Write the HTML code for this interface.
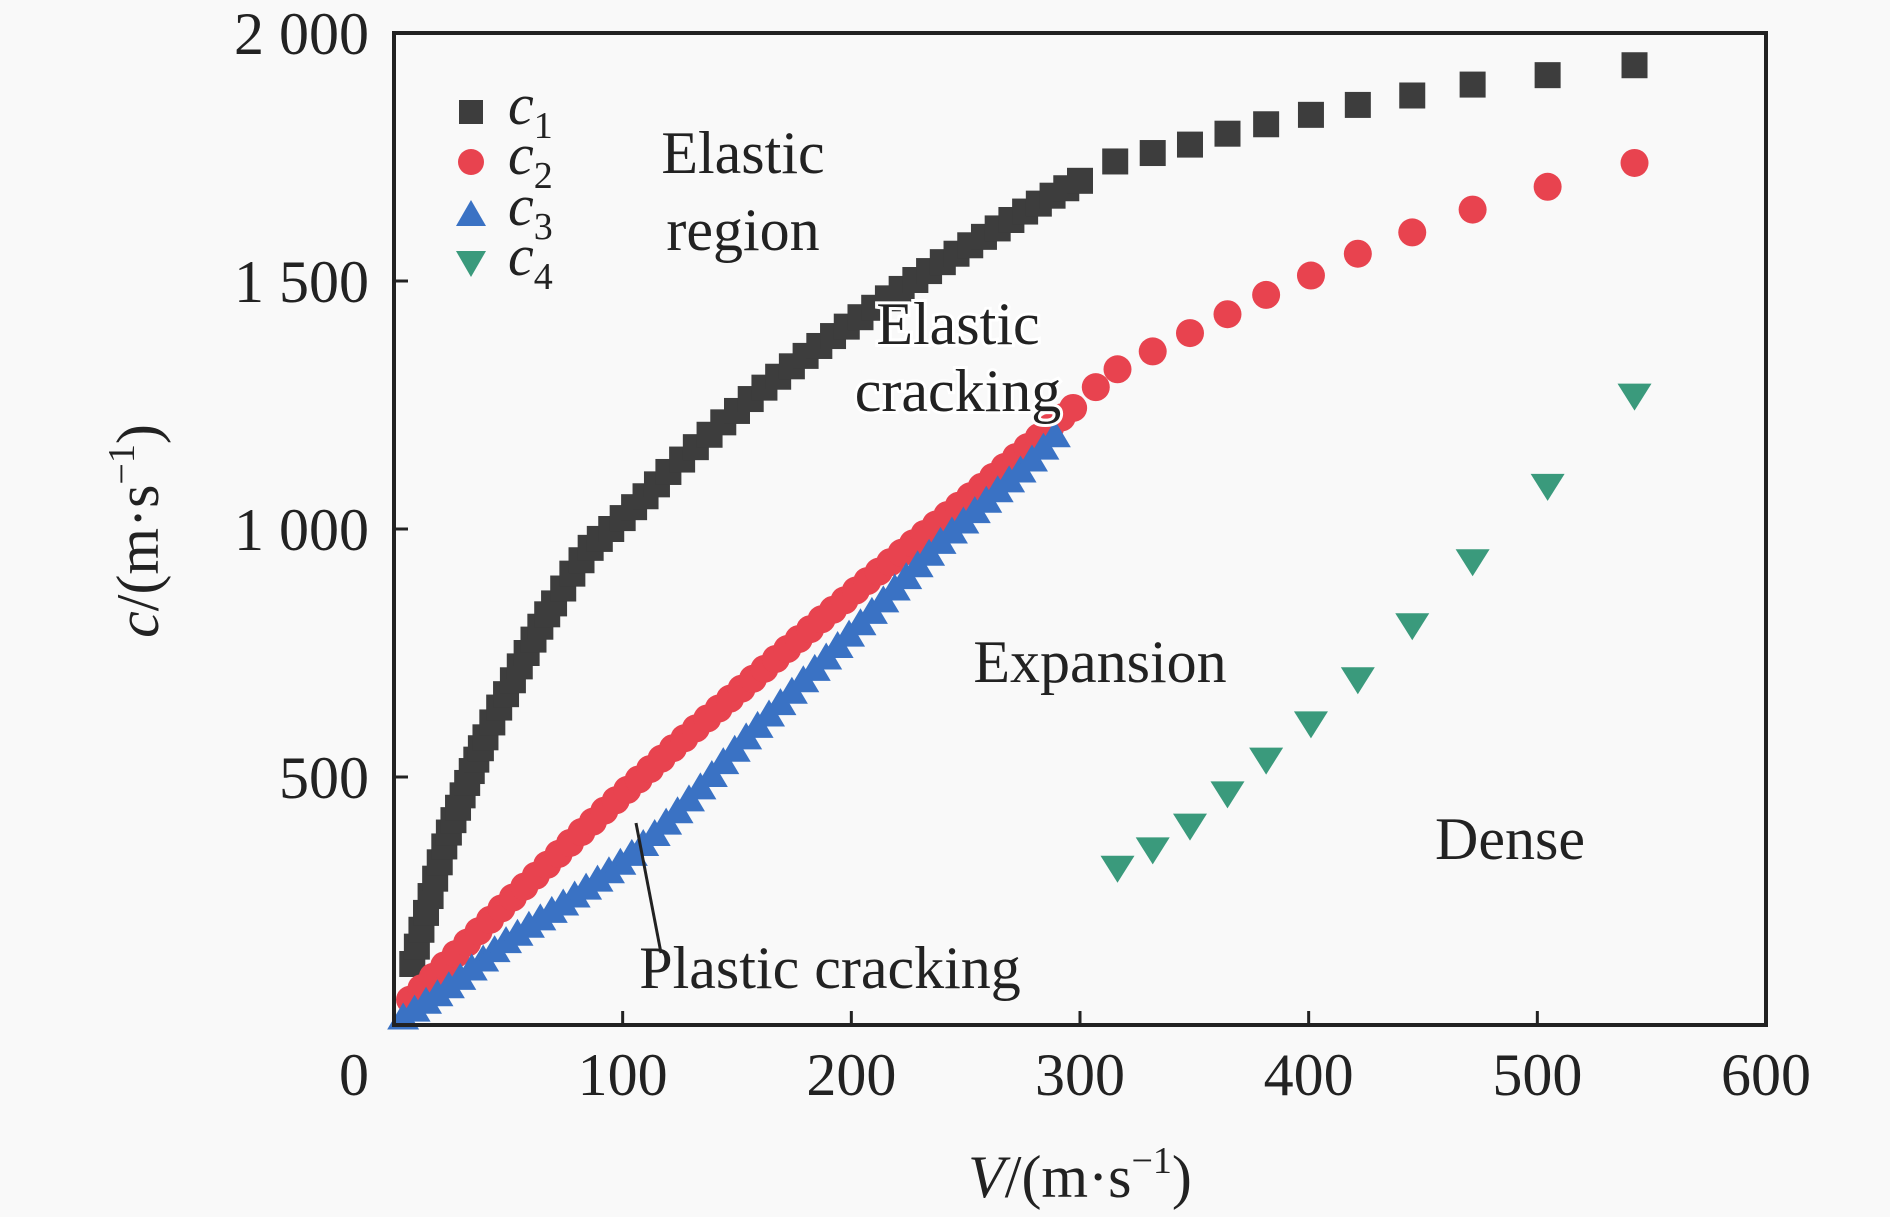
<!DOCTYPE html>
<html><head><meta charset="utf-8"><style>
html,body{margin:0;padding:0;background:#f9f9f9;}
svg{display:block;}
text,tspan{font-family:"Liberation Serif","Times New Roman",serif;}
</style></head><body>
<svg id="chart" width="1890" height="1217" viewBox="0 0 1890 1217" xmlns="http://www.w3.org/2000/svg" font-family="Liberation Serif, serif">
<rect width="1890" height="1217" fill="#f9f9f9"/>
<g id="marks"></g>
<rect x="394" y="33" width="1372" height="992" fill="none" stroke="#222" stroke-width="4"/>
<g id="axes"></g>
<g font-size="58" font-style="italic" fill="#222">
  <rect x="459" y="100" width="24" height="24" fill="#3d3d3d"/>
  <circle cx="471" cy="162" r="13" fill="#e8434f"/>
  <polygon points="456,226 486,226 471,200" fill="#3a72c4"/>
  <polygon points="456,251 486,251 471,277" fill="#3a9a7c"/>
  <text x="508" y="124">c<tspan font-style="normal" font-size="38" dy="14">1</tspan></text>
  <text x="508" y="174">c<tspan font-style="normal" font-size="38" dy="14">2</tspan></text>
  <text x="508" y="225">c<tspan font-style="normal" font-size="38" dy="14">3</tspan></text>
  <text x="508" y="275">c<tspan font-style="normal" font-size="38" dy="14">4</tspan></text>
</g>
<g font-size="60" fill="#222">
  <text x="743" y="173" text-anchor="middle">Elastic</text>
  <text x="743" y="250" text-anchor="middle">region</text>
  <text x="958" y="344" text-anchor="middle" stroke="#fff" stroke-width="6" paint-order="stroke">Elastic</text>
  <text x="958" y="411" text-anchor="middle" stroke="#fff" stroke-width="6" paint-order="stroke">cracking</text>
  <text x="1100" y="682" text-anchor="middle">Expansion</text>
  <text x="1510" y="859" text-anchor="middle">Dense</text>
  <text x="830" y="988" text-anchor="middle">Plastic cracking</text>
  <line x1="636" y1="823" x2="661" y2="953" stroke="#222" stroke-width="3"/>
</g>
<text x="1080" y="1197" text-anchor="middle" font-size="60" fill="#222"><tspan font-style="italic">V</tspan>/(m·s<tspan font-size="38" dy="-24">−1</tspan><tspan dy="24">)</tspan></text>
<text transform="translate(158,531) rotate(-90)" text-anchor="middle" font-size="60" fill="#222"><tspan font-style="italic">c</tspan>/(m·s<tspan font-size="38" dy="-24">−1</tspan><tspan dy="24">)</tspan></text>
<script>
const xTicks=[0,100,200,300,400,500,600];
const yTicks=[500,1000,1500,2000];
const yTickLabels=["500","1 000","1 500","2 000"];
const c1V=[8,10,12,14,16,18,20,22,24,26,28,30,32,34,36,38,40,43,46,49,52,55,58,61,64,67,70,74,78,82,86,90,95,100,105,110,115,120,126,132,138,144,150,156,162,168,174,180,186,192,198,204,210,216,222,228,234,240,246,252,258,264,270,276,282,288,294,300,315.4,331.8,348.1,364.5,381.4,401,421.5,445.3,471.7,504.5,542.5];
const c1C=[123,158,192,226,260,295,328,360,388,413,438,463,488,512,535,558,580,610,640,667,695,723,750,777,803,828,850,880,910,937,962,980,1000,1022,1044,1066,1090,1115,1140,1165,1190,1215,1238,1262,1285,1307,1328,1349,1369,1389,1408,1427,1446,1465,1484,1502,1520,1538,1555,1572,1589,1606,1623,1640,1656,1672,1687,1702,1741,1758,1775,1797,1816,1835,1855,1874,1896,1915,1935];
const c2V=[7,12,17,22,27,32,37,42,47,52,57,62,67,72,77,82,87,92,97,102,107,112,117,122,127,132,137,142,147,152,157,162,167,172,177,182,187,192,197,202,207,212,217,222,227,232,237,242,247,252,257,262,267,272,277,282,287,292,297,306.9,316.4,331.8,348.1,364.5,381.4,401,421.5,445.3,471.7,504.5,542.5];
const c2C=[51,74,97,120,143,166,189,212,235,257,279,301,323,345,367,389,410,432,453,474,495,516,537,558,578,598,618,638,658,678,698,718,738,758,778,798,818,837,856,876,895,914,933,952,971,990,1009,1028,1047,1066,1085,1105,1125,1145,1165,1185,1205,1225,1244,1286,1322,1358,1395,1433,1472,1511,1555,1598,1644,1690,1738];
const c3V=[4,9,14,19,24,29,34,39,44,49,54,59,64,69,74,79,84,89,94,99,104,109,114,119,124,129,134,139,144,149,154,159,164,169,174,179,184,189,194,199,204,209,214,219,224,229,234,239,244,249,254,259,264,269,274,279,284,289];
const c3C=[15,31,47,62,78,95,114,132,151,169,184,200,215,230,245,261,277,293,310,327,345,365,385,408,431,455,479,504,530,555,580,603,626,649,672,695,718,741,764,787,810,833,856,880,903,927,950,974,995,1015,1036,1057,1078,1098,1118,1140,1164,1189];
const c4V=[316.4,331.8,348.1,364.5,381.4,401,421.5,445.3,471.7,504.5,542.5];
const c4C=[317,354,402,467,535,608,697,806,935,1087,1269];

const NS="http://www.w3.org/2000/svg";
const X0=394,X1=1766,Y0=1025,Y1=33;
function sx(v){return X0+(v-0)/(600-0)*(X1-X0);}
function sy(c){return Y0-(c-0)/(2000-0)*(Y0-Y1);}
const marks=document.getElementById('marks');
const axes=document.getElementById('axes');
function mk(tag){return document.createElementNS(NS,tag);}

xTicks.forEach((t,i)=>{
  if(t>0&&t<600){
    const l=mk('line');
    
    
    l.setAttribute('x1',sx(t));l.setAttribute('x2',sx(t));
    l.setAttribute('y1',Y0);l.setAttribute('y2',Y0-14);
    l.setAttribute('stroke','#222');l.setAttribute('stroke-width','3');
    axes.appendChild(l);
  }
  const tx=mk('text');
  
  
  tx.setAttribute('x',t===0?354:sx(t));tx.setAttribute('y',1095);
  tx.setAttribute('text-anchor','middle');tx.setAttribute('font-size','60');tx.setAttribute('fill','#222');
  tx.textContent=String(t);
  axes.appendChild(tx);
});
yTicks.forEach((t,i)=>{
  if(t<2000){
    const l=mk('line');
    
    
    l.setAttribute('x1',X0);l.setAttribute('x2',X0+14);
    l.setAttribute('y1',sy(t));l.setAttribute('y2',sy(t));
    l.setAttribute('stroke','#222');l.setAttribute('stroke-width','3');
    axes.appendChild(l);
  }
  const tx=mk('text');
  
  
  tx.setAttribute('x',369);tx.setAttribute('y',sy(t)+21);
  tx.setAttribute('text-anchor','end');tx.setAttribute('font-size','60');tx.setAttribute('fill','#222');
  tx.textContent=yTickLabels[i];
  axes.appendChild(tx);
});

function square(v,c){
  const r=mk('rect');
  
  
  r.setAttribute('x',sx(v)-13);r.setAttribute('y',sy(c)-13);
  r.setAttribute('width',26);r.setAttribute('height',26);r.setAttribute('fill','#3d3d3d');
  marks.appendChild(r);
}
function circle(v,c){
  const e=mk('circle');
  
  
  e.setAttribute('cx',sx(v));e.setAttribute('cy',sy(c));e.setAttribute('r',14);
  e.setAttribute('fill','#e8434f');
  marks.appendChild(e);
}
function triUp(v,c){
  const p=mk('polygon');
  
  
  const x=sx(v),y=sy(c);
  p.setAttribute('points',(x-16)+','+(y+12)+' '+(x+16)+','+(y+12)+' '+x+','+(y-15));
  p.setAttribute('fill','#3a72c4');
  marks.appendChild(p);
}
function triDown(v,c){
  const p=mk('polygon');
  
  
  const x=sx(v),y=sy(c);
  p.setAttribute('points',(x-17)+','+(y-12)+' '+(x+17)+','+(y-12)+' '+x+','+(y+15));
  p.setAttribute('fill','#3a9a7c');
  marks.appendChild(p);
}
c1V.forEach((v,i)=>square(v,c1C[i]));
c2V.forEach((v,i)=>circle(v,c2C[i]));
c3V.forEach((v,i)=>triUp(v,c3C[i]));
c4V.forEach((v,i)=>triDown(v,c4C[i]));
</script>
</svg>
</body></html>
